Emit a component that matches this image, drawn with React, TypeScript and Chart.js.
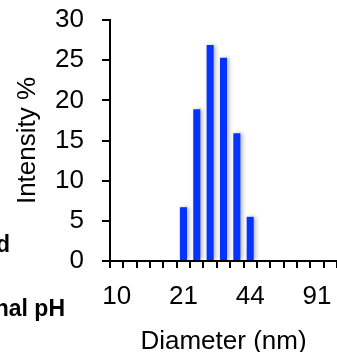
import React, { useEffect, useRef } from 'react';
import { Chart, registerables } from 'chart.js';

Chart.register(...registerables);

// Diameter bins (nm), log-spaced
const diameters = ['10', '11.6', '13.5', '15.7', '18.2', '21', '24.4', '28.2', '32.7', '37.8', '44', '50.7', '58.8', '68.1', '78.8', '91', '105'];
// Intensity (%)
const intensity = [0, 0, 0, 0, 0, 6.7, 18.9, 26.9, 25.3, 15.9, 5.5, 0, 0, 0, 0, 0, 0];
// Labelled x ticks
const shownTicks = ['10', '21', '44', '91'];
const yMin = 0;
const yMax = 30;
const yStep = 5;

const FONT = "'Liberation Sans', Arial, Helvetica, sans-serif";

const shadowPlugin = {
  id: 'barShadow',
  beforeDatasetsDraw(chart: any) {
    const c = chart.ctx;
    c.save();
    c.shadowColor = 'rgba(0,0,0,0.3)';
    c.shadowBlur = 4;
    c.shadowOffsetX = 2;
    c.shadowOffsetY = 0;
  },
  afterDatasetsDraw(chart: any) {
    chart.ctx.restore();
  },
};

export default function App() {
  const ref = useRef<HTMLCanvasElement | null>(null);

  useEffect(() => {
    if (!ref.current) return;
    const chart = new Chart(ref.current, {
      type: 'bar',
      data: {
        labels: diameters,
        datasets: [
          {
            data: intensity,
            backgroundColor: '#0432FF',
            borderWidth: 0,
            barPercentage: 0.53,
            categoryPercentage: 1,
          },
        ],
      },
      plugins: [shadowPlugin],
      options: {
        animation: false,
        responsive: false,
        devicePixelRatio: 1,
        layout: { padding: { top: 20, left: 0, right: 0, bottom: 0 } },
        plugins: { legend: { display: false }, tooltip: { enabled: false } },
        scales: {
          x: {
            afterFit: (s: any) => {
              s.height = 91;
              s.paddingLeft = 0;
              s.paddingRight = 0;
            },
            grid: {
              display: true,
              drawOnChartArea: false,
              drawTicks: true,
              tickLength: 7,
              offset: true,
              color: '#000',
              lineWidth: 2,
            },
            border: { display: true, color: '#000', width: 2 },
            ticks: {
              autoSkip: false,
              maxRotation: 0,
              padding: 13,
              color: '#000',
              font: { family: FONT, size: 26 },
              callback: function (this: any, v: any) {
                const lab = diameters[v as number];
                return shownTicks.includes(lab) ? lab : '';
              },
            },
            title: {
              display: true,
              text: 'Diameter (nm)',
              color: '#000',
              font: { family: FONT, size: 26, lineHeight: 0.8 },
              padding: 0,
            },
          },
          y: {
            min: yMin,
            max: yMax,
            afterFit: (s: any) => {
              s.width = 110;
              s.paddingTop = 0;
              s.paddingBottom = 0;
            },
            grid: {
              display: true,
              drawOnChartArea: false,
              drawTicks: true,
              tickLength: 8,
              color: '#000',
              lineWidth: 2,
            },
            border: { display: true, color: '#000', width: 2 },
            ticks: {
              stepSize: yStep,
              padding: 18,
              color: '#000',
              font: { family: FONT, size: 26 },
            },
            title: {
              display: true,
              text: 'Intensity %',
              color: '#000',
              font: { family: FONT, size: 26, lineHeight: 1 },
              padding: { top: 15, bottom: 0 },
            },
          },
        },
      },
    });
    return () => chart.destroy();
  }, []);

  const sideText: React.CSSProperties = {
    position: 'absolute',
    whiteSpace: 'nowrap',
    fontFamily: FONT,
    fontWeight: 'bold',
    fontSize: 23,
    lineHeight: '23px',
    color: '#000',
  };

  return (
    <div
      style={{
        position: 'fixed',
        left: 0,
        top: 0,
        width: 337,
        height: 352,
        background: '#fff',
        overflow: 'hidden',
      }}
    >
      <canvas ref={ref} width={337} height={352} style={{ display: 'block', width: 337, height: 352 }} />
      <div style={{ ...sideText, right: 337 - 10, top: 233 }}>d</div>
      <div style={{ ...sideText, right: 337 - 65, top: 297 }}>nal pH</div>
    </div>
  );
}
